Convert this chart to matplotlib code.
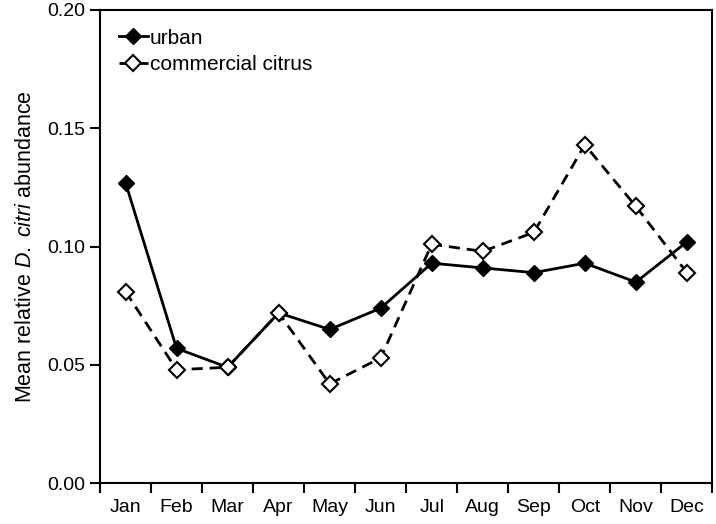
import matplotlib
matplotlib.use("Agg")
import matplotlib.pyplot as plt

plt.rcParams['font.family'] = ['Liberation Sans', 'DejaVu Sans']
plt.rcParams['mathtext.fontset'] = 'custom'
plt.rcParams['mathtext.rm'] = 'Liberation Sans'
plt.rcParams['mathtext.it'] = 'Liberation Sans:italic'

# data
months = ['Jan', 'Feb', 'Mar', 'Apr', 'May', 'Jun',
          'Jul', 'Aug', 'Sep', 'Oct', 'Nov', 'Dec']
urban = [0.127, 0.057, 0.049, 0.072, 0.065, 0.074,
         0.093, 0.091, 0.089, 0.093, 0.085, 0.102]
commercial = [0.081, 0.048, 0.049, 0.072, 0.042, 0.053,
              0.101, 0.098, 0.106, 0.143, 0.117, 0.089]

fig = plt.figure(figsize=(7.16, 5.24), dpi=100)
ax = fig.add_axes([0.1397, 0.0777, 0.8553, 0.9033])

x = list(range(len(months)))
ax.plot(x, urban, color='black', lw=2, marker='D', ms=8,
        mfc='black', mec='black', label='urban')
ax.plot(x, commercial, color='black', lw=2, ls=(0, (4, 2.5)), marker='D', ms=8,
        mfc='white', mec='black', mew=1.5, label='commercial citrus')

ax.set_xlim(-0.5, 11.5)
ax.set_ylim(0, 0.20)
ax.set_yticks([0, 0.05, 0.10, 0.15, 0.20])
ax.set_yticklabels(['0.00', '0.05', '0.10', '0.15', '0.20'], fontsize=14)
ax.set_xticks([i - 0.5 for i in range(13)])
ax.set_xticklabels([])
ax.set_xticks(x, minor=True)
ax.set_xticklabels(months, minor=True, fontsize=14)
ax.tick_params(axis='x', which='minor', length=0, pad=11)
ax.tick_params(axis='both', which='major', direction='out', length=7, width=1.5)
for s in ax.spines.values():
    s.set_linewidth(1.5)

ax.set_ylabel(r'Mean relative $\mathit{D.\ citri}$ abundance', fontsize=15.5, labelpad=8)

ax.legend(loc='upper left', frameon=False, fontsize=15, handlelength=1.4,
          handletextpad=0.1, borderaxespad=0.5, borderpad=0.4, labelspacing=0.35)

fig.savefig('out.png', dpi=100)
